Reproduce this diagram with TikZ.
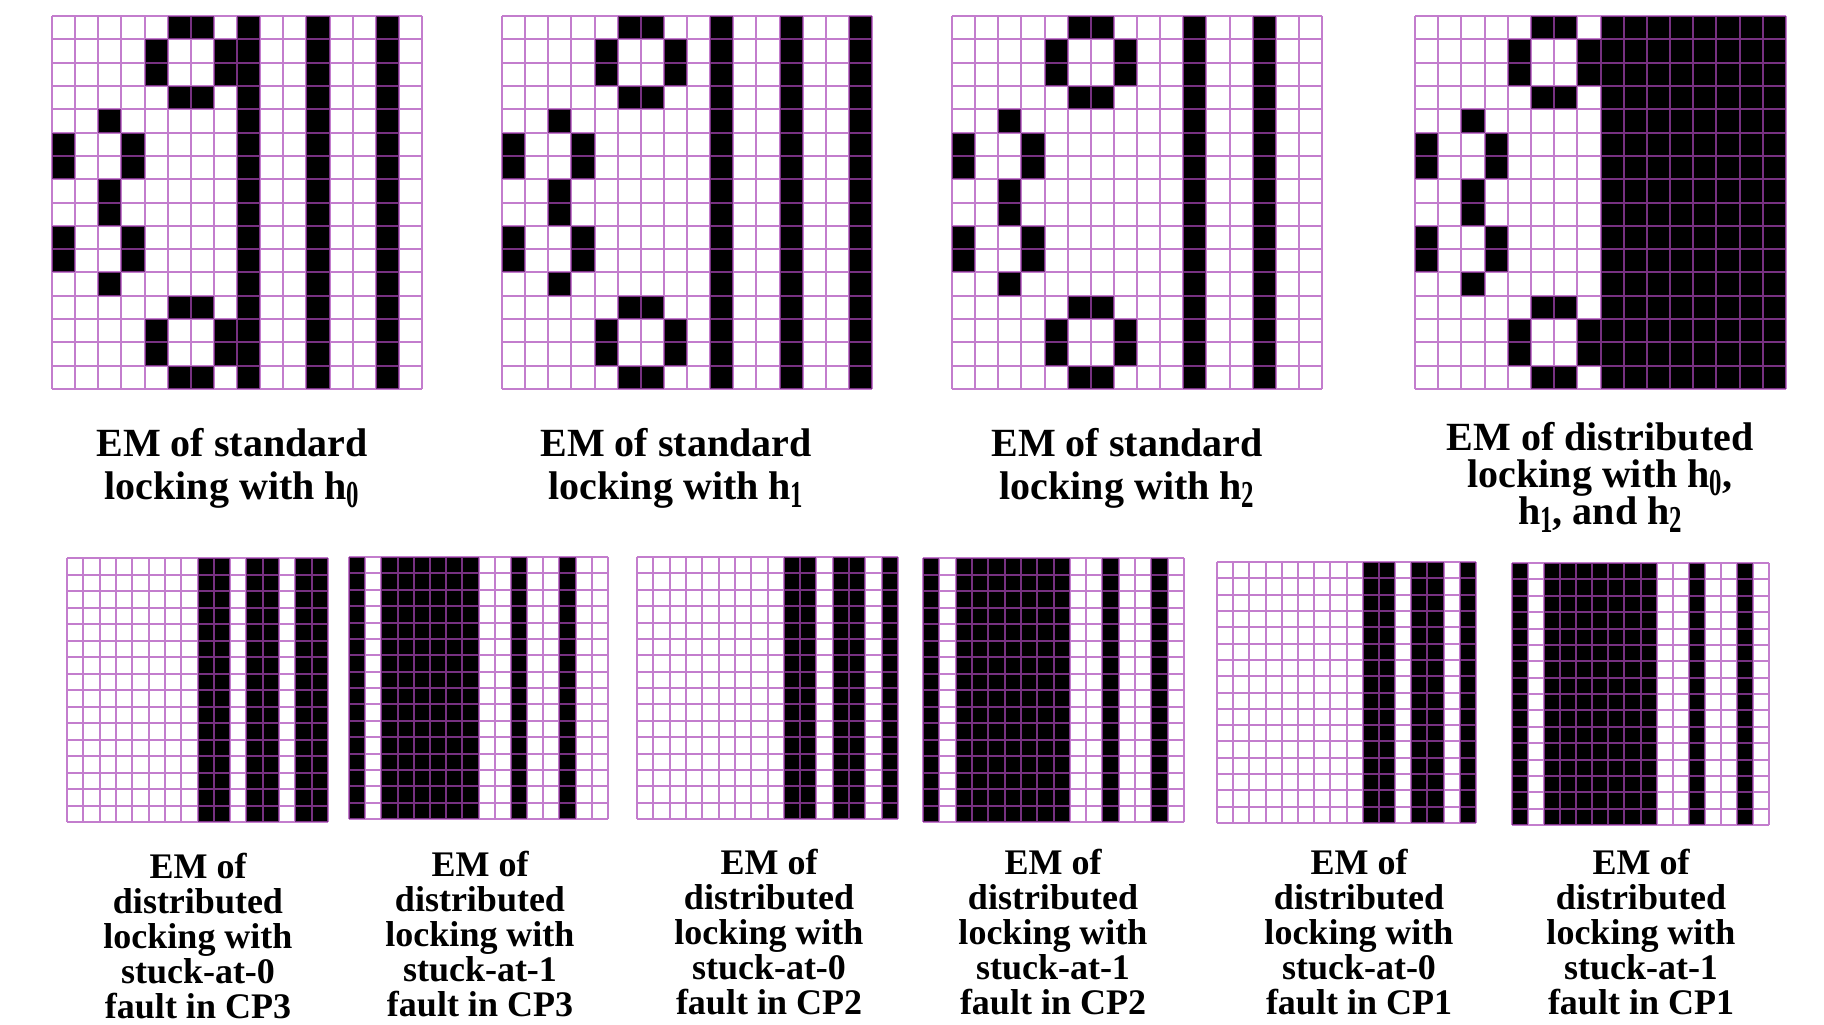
\documentclass[tikz,border=0pt]{standalone}
\usepackage{fontspec}
\setmainfont{Liberation Serif}
\usepackage{graphicx}
\definecolor{gridc}{RGB}{170,71,184}
\newcommand\mysub[1]{\raisebox{-0.22em}{\scalebox{0.62}[0.95]{#1}}}
\newcommand\shapecells{5/0,6/0,4/1,7/1,4/2,7/2,5/3,6/3,2/4,0/5,3/5,0/6,3/6,2/7,2/8,0/9,3/9,0/10,3/10,2/11,5/12,6/12,4/13,7/13,4/14,7/14,5/15,6/15}
\tikzset{
  gridl/.style={draw=gridc,draw opacity=0.7,line width=2pt},
  toplab/.style={align=center,inner sep=0pt,anchor=base,font={\fontsize{40}{43}\selectfont\bfseries}},
  botlab/.style={align=center,inner sep=0pt,anchor=base,font={\fontsize{36}{35}\selectfont\bfseries}}
}
\newcommand\emgrid[6]{%
  \pgfmathsetmacro\gcw{(#3-#1)/16}%
  \pgfmathsetmacro\gch{(#4-#2)/16}%
  \begin{scope}[shift={(#1,#2)},x=\gcw pt,y=-\gch pt]
    \fill[white] (0,0) rectangle (16,16);
    \foreach \c in {#5} {\fill[black] (\c,0) rectangle ++(1,16);}
    \ifnum#6=1
      \foreach \c/\r in \shapecells {\fill[black] (\c,\r) rectangle ++(1,1);}
    \fi
    \draw[gridl] \foreach \i in {0,...,16} {(\i,0) -- (\i,16) (0,\i) -- (16,\i)};
  \end{scope}}
\begin{document}
\begin{tikzpicture}[x=1pt,y=-1pt]
\useasboundingbox (0,0) rectangle (1824,1025);
\fill[white] (0,0) rectangle (1824,1025);
% top row
\emgrid{52}{16}{422}{389}{8,11,14}{1}
\emgrid{502}{16}{872}{389}{9,12,15}{1}
\emgrid{952}{16}{1322}{389}{10,13}{1}
\emgrid{1415}{16}{1786}{389}{8,9,10,11,12,13,14,15}{1}
% bottom row
\emgrid{67}{558}{328}{822}{8,9,11,12,14,15}{0}
\emgrid{349}{557}{608}{819}{0,2,3,4,5,6,7,10,13}{0}
\emgrid{637}{557}{898}{819}{9,10,12,13,15}{0}
\emgrid{923}{558}{1184}{822}{0,2,3,4,5,6,7,8,11,14}{0}
\emgrid{1217}{562}{1476}{823}{9,10,12,13,15}{0}
\emgrid{1512}{563}{1769}{825}{0,2,3,4,5,6,7,8,11,14}{0}
% top labels (anchor = baseline of last line)
\node[toplab] (t1) at (232,499) {EM of standard\\locking with h\mysub{0}};
\node[toplab] (t2) at (676,499) {EM of standard\\locking with h\mysub{1}};
\node[toplab] (t3) at (1127,499) {EM of standard\\locking with h\mysub{2}};
\node[toplab,font={\fontsize{40}{37}\selectfont\bfseries}] (t4) at (1600,524) {EM of distributed\\locking with h\mysub{0},\\h\mysub{1}, and h\mysub{2}};
% bottom labels
\node[botlab] (b1) at (198,1018) {EM of\\distributed\\locking with\\stuck-at-0\\fault in CP3};
\node[botlab] (b2) at (480,1016) {EM of\\distributed\\locking with\\stuck-at-1\\fault in CP3};
\node[botlab] (b3) at (769,1014) {EM of\\distributed\\locking with\\stuck-at-0\\fault in CP2};
\node[botlab] (b4) at (1053,1014) {EM of\\distributed\\locking with\\stuck-at-1\\fault in CP2};
\node[botlab] (b5) at (1359,1014) {EM of\\distributed\\locking with\\stuck-at-0\\fault in CP1};
\node[botlab] (b6) at (1641,1014) {EM of\\distributed\\locking with\\stuck-at-1\\fault in CP1};
\end{tikzpicture}
\end{document}
